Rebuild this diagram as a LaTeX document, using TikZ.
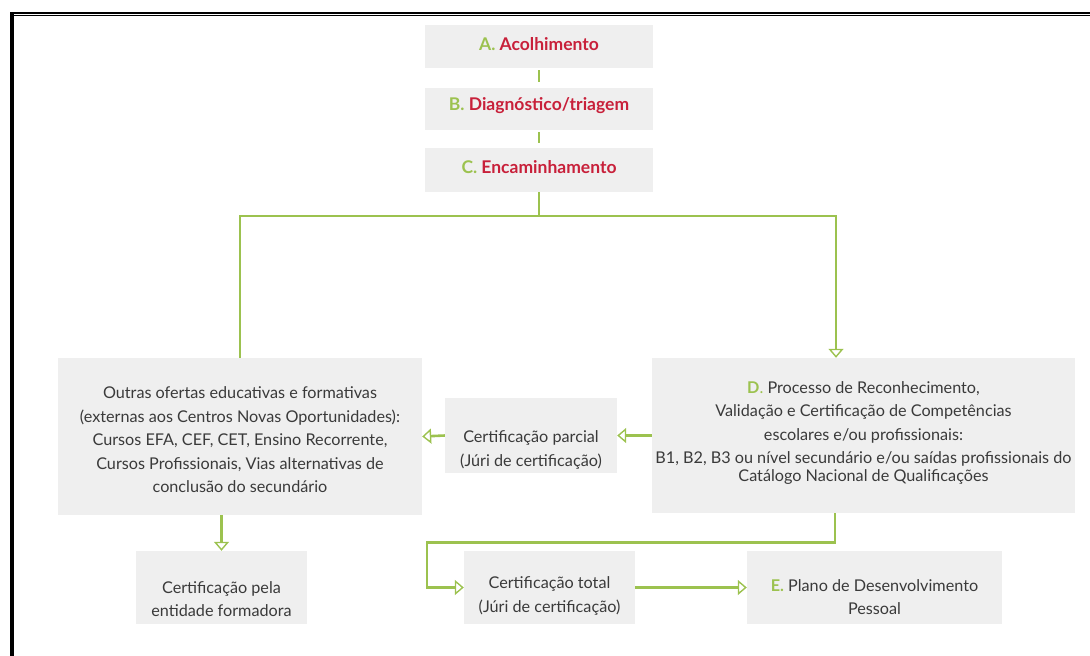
\documentclass[tikz,border=0pt]{standalone}
\usepackage{fontspec}
\setmainfont{Lato}
\usetikzlibrary{arrows.meta}
\definecolor{gl}{HTML}{9CC24F}
\definecolor{rd}{HTML}{C8203A}
\definecolor{tx}{HTML}{3A3A3A}
\definecolor{bx}{HTML}{EFEFEF}
\begin{document}
\begin{tikzpicture}[x=1pt,y=-1pt,
  box/.style={fill=bx, draw=none, inner sep=0pt},
  txt/.style={text=tx, align=center, font=\fontsize{16.2}{23.5}\selectfont, inner sep=0pt},
  head/.style={font=\fontsize{17.5}{20}\selectfont\bfseries, text=rd, inner sep=0pt},
  link/.style={draw=gl, line width=2.6pt},
  arr/.style={link, -{Triangle[open, length=9pt, width=15pt, line width=1.4pt]}}
]
\useasboundingbox (0,0) rectangle (1090,656);
% frame
\draw[line width=4.3pt] (12.2,656) -- (12.2,14.3);
\draw[line width=2.3pt] (10,13.2) -- (1090,13.2);
\draw[line width=1.1pt] (14.3,15.9) -- (1090,15.9);

% top boxes
\node[box, minimum width=228pt, minimum height=43pt] (A) at (539,46.5) {};
\node[head] (At) at (539,44) {\textcolor{gl}{A.} Acolhimento};
\node[box, minimum width=228pt, minimum height=42pt] (B) at (539,109) {};
\node[head] (Bt) at (539,106) {\textcolor{gl}{B.} Diagnóstico/triagem};
\node[box, minimum width=228pt, minimum height=44pt] (C) at (539,170) {};
\node[head] (Ct) at (539,167) {\textcolor{gl}{C.} Encaminhamento};

% middle row
\node[box, minimum width=364pt, minimum height=157pt] (L) at (240,436.5) {};
\node[txt] (Lt) at (240,440) {Outras ofertas educativas e formativas\\(externas aos Centros Novas Oportunidades):\\Cursos EFA, CEF, CET, Ensino Recorrente,\\Cursos Profissionais, Vias alternativas de\\conclusão do secundário};

\node[box, minimum width=172pt, minimum height=75pt] (P) at (531,435.5) {};
\node[txt] (Pt) at (531,450) {Certificação parcial\\(Júri de certificação)};

\node[box, minimum width=423pt, minimum height=155pt] (D) at (863.5,435.5) {};
\node[txt] (Dt) at (863.5,433) {\textcolor{gl}{\bfseries D}\textcolor{gl}{.} Processo de Reconhecimento,\\Validação e Certificação de Competências\\escolares e/ou profissionais:\\B1, B2, B3 ou nível secundário e/ou saídas profissionais do\\[-6pt]Catálogo Nacional de Qualificações};

% bottom row
\node[box, minimum width=171pt, minimum height=73pt] (F) at (221.5,587.5) {};
\node[txt] (Ft) at (221.5,599) {Certificação pela\\entidade formadora};
\node[box, minimum width=171pt, minimum height=73pt] (T) at (549.5,587.5) {};
\node[txt] (Tt) at (549.5,596) {Certificação total\\(Júri de certificação)};
\node[box, minimum width=255pt, minimum height=73pt] (E) at (874.5,587.5) {};
\node[txt] (Et) at (874.5,597) {\textcolor{gl}{\bfseries E.} Plano de Desenvolvimento\\Pessoal};

% connectors
\draw[link, shorten <=2pt, shorten >=6pt] (A) -- (B);
\draw[link, shorten <=2pt, shorten >=5pt] (B) -- (C);
\coordinate (j) at (539,216);
\draw[link] (C) -- (j);
\draw[link] (j) -| (L.north);
\draw[arr] (j) -| ([xshift=-27.5pt]D.north);
\draw[arr] (D.west) -- (P.east);
\draw[arr] (P.west) -- (L.east);
\draw[arr] (L.south -| F.north) -- (F.north);
\draw[arr] ([xshift=-28.5pt]D.south) -- ++(0,29) -| ([xshift=-37pt]T.west) -- (T.west);
\draw[arr] (T.east) -- (E.west);
\end{tikzpicture}
\end{document}
